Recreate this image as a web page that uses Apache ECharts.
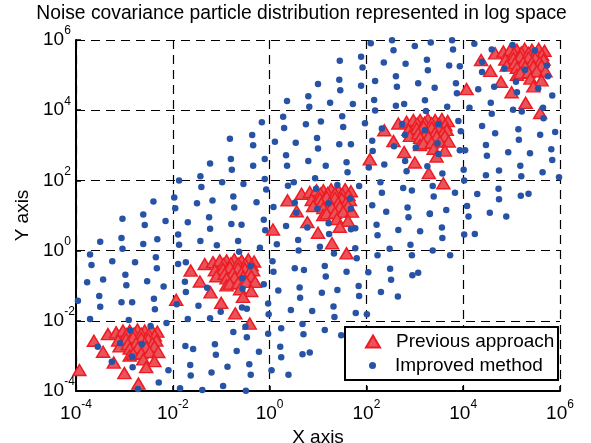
<!DOCTYPE html>
<html>
<head>
<meta charset="utf-8">
<script src="https://cdn.jsdelivr.net/npm/echarts@6/dist/echarts.min.js"></script>
<style>
  html, body { margin: 0; padding: 0; background: #fff; }
  #chart { width: 591px; height: 443px; }
</style>
</head>
<body>
<div id="chart"></div>
<script>
// All coordinates are stored as base-10 exponents (log10 of the value).

// Axis ticks (exponents of 10)
const tickExponents = [-4, -2, 0, 2, 4, 6];

// "Previous approach" particles, one array pair per cloud
const prevAx = [-3.93,-3.63,-3.34,-3.44,-3.22,-3.00,-2.71,-3.17,-3.03,-2.89,-2.73,-2.58,-2.44,-2.32,-2.95,-2.80,-2.65,-2.50,-2.37,-3.13,-2.96,-2.82,-2.65,-2.51,-2.34,-3.10,-2.93,-2.76,-2.58,-2.42,-2.89,-2.72,-2.55,-2.38,-2.89,-2.82,-2.65,-2.48,-2.30,-2.61,-2.38,-2.55];
const prevAy = [-3.40,-2.57,-2.38,-2.88,-3.19,-3.49,-3.79,-2.33,-2.28,-2.28,-2.25,-2.28,-2.25,-2.31,-2.38,-2.36,-2.37,-2.39,-2.42,-2.56,-2.52,-2.47,-2.50,-2.52,-2.56,-2.73,-2.66,-2.64,-2.64,-2.64,-2.79,-2.76,-2.75,-2.73,-2.99,-2.94,-2.92,-2.89,-2.89,-3.10,-3.15,-3.32];

const prevBx = [-1.93,-1.63,-1.34,-1.44,-1.22,-1.00,-0.71,-0.41,-1.17,-1.03,-0.89,-0.73,-0.58,-0.44,-0.32,-0.95,-0.80,-0.65,-0.50,-0.37,-1.13,-0.96,-0.82,-0.65,-0.51,-0.34,-1.10,-0.93,-0.76,-0.58,-0.42,-0.89,-0.72,-0.55,-0.38,-0.89,-0.82,-0.65,-0.48,-0.30,-0.61,-0.38,-0.55];
const prevBy = [-1.40,-0.57,-0.38,-0.88,-1.19,-1.49,-1.79,-2.08,-0.33,-0.28,-0.28,-0.25,-0.28,-0.25,-0.31,-0.38,-0.36,-0.37,-0.39,-0.42,-0.56,-0.52,-0.47,-0.50,-0.52,-0.56,-0.73,-0.66,-0.64,-0.64,-0.64,-0.79,-0.76,-0.75,-0.73,-0.99,-0.94,-0.92,-0.89,-0.89,-1.10,-1.15,-1.32];

const prevCx = [0.07,0.37,0.66,0.56,0.78,1.00,1.29,1.59,0.83,0.97,1.11,1.27,1.42,1.56,1.68,1.05,1.20,1.35,1.50,1.63,0.87,1.04,1.18,1.35,1.49,1.66,0.90,1.07,1.24,1.42,1.58,1.11,1.28,1.45,1.62,1.11,1.18,1.35,1.52,1.70,1.39,1.62,1.45];
const prevCy = [0.60,1.43,1.62,1.12,0.81,0.51,0.21,-0.08,1.67,1.72,1.72,1.75,1.72,1.75,1.69,1.62,1.64,1.63,1.61,1.58,1.44,1.48,1.53,1.50,1.48,1.44,1.27,1.34,1.36,1.36,1.36,1.21,1.24,1.25,1.27,1.01,1.06,1.08,1.11,1.11,0.90,0.85,0.68];

const prevDx = [2.07,2.37,2.66,2.56,2.78,3.00,3.29,3.59,2.83,2.97,3.11,3.27,3.42,3.56,3.68,3.05,3.20,3.35,3.50,3.63,2.87,3.04,3.18,3.35,3.49,3.66,2.90,3.07,3.24,3.42,3.58,3.11,3.28,3.45,3.62,3.11,3.18,3.35,3.52,3.70,3.39,3.62,3.45];
const prevDy = [2.60,3.43,3.62,3.12,2.81,2.51,2.21,1.92,3.67,3.72,3.72,3.75,3.72,3.75,3.69,3.62,3.64,3.63,3.61,3.58,3.44,3.48,3.53,3.50,3.48,3.44,3.27,3.34,3.36,3.36,3.36,3.21,3.24,3.25,3.27,3.01,3.06,3.08,3.11,3.11,2.90,2.85,2.68];

const prevEx = [4.07,4.37,4.66,4.56,4.78,5.00,5.29,5.59,4.83,4.97,5.11,5.27,5.42,5.56,5.68,5.05,5.20,5.35,5.50,5.63,4.87,5.04,5.18,5.35,5.49,5.66,4.90,5.07,5.24,5.42,5.58,5.11,5.28,5.45,5.62,5.11,5.18,5.35,5.52,5.70,5.39,5.62,5.45];
const prevEy = [4.60,5.43,5.62,5.12,4.81,4.51,4.21,3.92,5.67,5.72,5.72,5.75,5.72,5.75,5.69,5.62,5.64,5.63,5.61,5.58,5.44,5.48,5.53,5.50,5.48,5.44,5.27,5.34,5.36,5.36,5.36,5.21,5.24,5.25,5.27,5.01,5.06,5.08,5.11,5.11,4.90,4.85,4.68];

// "Improved method" particles
const impX = [
 -0.82,-0.80,-1.23,-0.78,-1.87,-1.43,-0.98,-1.41,-2.40,-1.97,-1.95,-1.50,-1.18,-0.75,-0.73,-2.61,
 2.53,2.09,2.56,1.45,1.89,2.36,1.92,2.61,2.18,2.63,1.44,1.00,1.46,1.89,0.80,0.36,2.16,0.82,1.25,1.72,2.61,2.18,
 0.28,1.50,-0.16,0.30,0.75,1.06,1.52,1.97,-0.36,-0.34,0.11,0.54,0.98,1.00,1.44,1.68,2.12,2.57,2.13,
 -0.10,0.34,0.36,0.80,1.16,1.59,1.61,2.05,2.37,-0.34,-0.54,-0.10,-0.07,0.38,0.50,0.94,0.96,1.40,1.85,2.29,2.32,
 -0.27,0.08,0.52,0.55,1.22,1.66,1.68,2.12,2.41,0.99,0.34,0.78,1.22,1.23,1.68,1.77,0.15,0.59,1.04,0.60,1.33,1.77,1.80,
 3.00,3.33,3.77,3.79,4.23,4.59,5.02,5.48,2.81,3.25,3.27,3.71,3.93,4.39,4.39,4.85,5.28,5.73,5.75,
 3.07,3.41,3.85,3.87,4.31,4.64,5.09,5.11,5.55,5.84,3.21,2.78,3.23,3.67,4.13,4.57,4.59,5.03,5.21,5.65,5.66,
 4.39,4.66,5.14,5.15,5.59,5.90,3.95,3.49,3.21,2.74,2.80,3.47,3.02,3.49,3.93,4.04,4.47,4.49,4.93,5.38,5.82,5.84,
 2.80,3.26,2.83,3.57,4.01,4.02,4.47,4.74,5.18,5.20,5.64,5.98,2.76,2.94,3.37,3.39,3.83,4.29,4.73,4.74,5.19,5.35,
 2.85,3.31,3.65,4.08,4.55,2.32,3.90,
 -3.04,-2.58,-2.15,-1.69,-1.25,-1.23,-0.79,-3.50,-3.06,-3.04,-2.61,-2.32,-1.89,-1.87,-1.43,-1.09,
 -3.71,-3.68,-3.25,-2.78,-2.35,-2.33,-1.89,-1.73,-2.98,-3.44,-3.77,-2.96,-2.53,-2.19,-1.75,-1.73,-1.29,
 -3.52,-3.96,-3.50,-3.06,-2.84,-2.39,-2.37,-1.92,-1.47,-1.01,-3.71,-2.91,-2.46,-2.13,-1.69,-1.23,-0.75,
 -3.55,-3.09,-2.88,-2.64,-2.84,-3.26,-2.83,-2.09,-2.29,-1.74,-1.58,-1.13,-1.11,-1.64,-1.63,-1.20,-0.96,-1.85,-1.39,-0.87,-2.72,
 -0.58,-0.12,-0.09,2.21,2.23,2.66,-0.65,-0.63,-0.20,2.23,2.48,0.06,0.08,0.52,0.71,1.14,1.16,1.59,2.04,2.49,2.51,
 -0.39,-0.56,-0.56,-0.12,0.18,0.62,0.63,1.08,1.40,1.84,1.85,2.30,2.65,-0.57,-0.47,-0.03,-0.02,0.44,0.88,1.32,1.34,1.78,2.01,
 -0.50,-0.47,0.24,0.68,0.70,1.14,1.48,-0.03,-0.68,-0.22,0.22,0.24,0.68,0.83,-0.42,-0.39,0.04,0.39,-0.49,
 2.87,3.31,4.11,4.89,3.11,3.56,3.57,4.02,4.24,2.91,2.94,3.37,3.73,2.95,3.07
];
const impY = [
 3.19,2.61,2.48,2.30,2.00,2.12,1.95,1.81,1.40,1.51,1.21,1.35,1.43,1.54,1.23,1.03,
 5.99,5.91,5.71,5.41,5.52,5.36,5.22,4.97,4.83,4.67,4.87,4.75,4.57,4.70,4.40,4.26,4.29,4.10,4.21,4.18,4.13,3.99,
 3.81,3.83,3.66,3.49,3.60,3.68,3.52,3.63,3.29,3.00,3.10,3.07,3.21,2.91,3.03,3.03,3.13,2.97,2.84,
 2.61,2.72,2.42,2.55,2.42,2.52,2.23,2.37,2.45,2.42,1.90,2.04,1.74,1.85,1.95,2.06,1.76,1.87,1.84,1.95,1.65,
 1.38,1.24,1.36,1.08,1.35,1.48,1.19,1.29,1.11,1.19,0.70,0.66,0.78,0.47,0.61,0.64,0.18,0.30,0.11,0.00,-0.08,0.07,-0.22,
 5.83,5.93,5.99,5.73,5.89,5.73,5.86,5.70,5.32,5.44,5.14,5.27,5.25,5.38,5.09,5.19,5.15,5.27,4.97,
 4.77,4.64,4.77,4.48,4.60,4.67,4.81,4.51,4.62,4.42,4.28,4.18,3.98,4.10,4.07,4.21,3.90,4.01,3.96,4.07,3.77,
 3.55,3.34,3.46,3.16,3.30,3.38,3.40,3.60,3.43,3.61,3.29,3.06,2.94,2.75,2.86,2.86,3.01,2.70,2.80,2.77,2.89,2.58,
 2.55,2.40,2.26,2.20,2.30,2.00,2.15,2.28,2.42,2.12,2.23,2.09,1.78,1.71,1.84,1.54,1.65,1.61,1.76,1.46,1.56,1.62,
 1.23,1.06,1.16,1.27,1.08,3.48,3.69,
 0.91,0.73,0.84,0.81,0.95,0.62,0.76,0.25,0.36,0.05,0.19,0.32,0.46,0.17,0.27,0.15,
 -0.11,-0.41,-0.30,-0.33,-0.19,-0.50,-0.38,-0.33,-0.69,-0.82,-0.90,-0.99,-0.87,-1.02,-0.89,-1.18,-1.06,
 -1.29,-1.43,-1.60,-1.47,-1.47,-1.37,-1.67,-1.53,-1.57,-1.74,-1.95,-1.98,-2.15,-2.06,-1.95,-1.93,-2.32,
 -2.74,-2.64,-2.27,-2.66,-3.02,-3.17,-3.32,-3.41,-3.76,-2.72,-2.80,-2.67,-2.97,-3.26,-3.56,-3.47,-3.86,-3.92,-3.97,-3.31,-3.94,
 0.74,0.88,0.58,0.74,0.44,0.59,0.27,-0.03,0.08,-0.13,0.05,-0.30,-0.60,-0.50,-0.55,-0.44,-0.74,-0.60,-0.62,-0.52,-0.83,
 -0.44,-0.79,-1.09,-0.96,-1.14,-1.05,-1.34,-1.20,-1.12,-1.01,-1.29,-1.18,-1.31,-1.62,-1.66,-1.51,-1.81,-1.69,-1.72,-1.59,-1.89,-1.78,-1.81,
 -2.17,-2.47,-2.21,-2.09,-2.38,-2.26,-2.41,-2.37,-2.86,-2.88,-2.74,-3.04,-2.95,-2.90,-3.24,-3.54,-3.41,-3.54,-3.99,
 0.95,1.04,0.97,0.97,0.55,0.66,0.36,0.46,0.47,0.17,-0.13,0.00,-0.13,-0.70,-0.63
];

const FONT = '"Liberation Sans", Arial, Helvetica, sans-serif';
const toValues = (xs, ys) => xs.map((x, i) => [Math.pow(10, x), Math.pow(10, ys[i])]);

const prevData = [].concat(
  toValues(prevAx, prevAy), toValues(prevBx, prevBy), toValues(prevCx, prevCy),
  toValues(prevDx, prevDy), toValues(prevEx, prevEy)
);
const impData = toValues(impX, impY);

const powerLabel = v => '{b|10}{s|' + Math.round(Math.log10(v)) + '}';
const labelRich = {
  b: { fontFamily: FONT, fontSize: 19, color: '#000', lineHeight: 30 },
  s: { fontFamily: FONT, fontSize: 12, color: '#000', lineHeight: 12, verticalAlign: 'top' }
};
const gridDash = { color: '#000', width: 1.2, type: [9, 6] };

function logAxis(extra) {
  return Object.assign({
    type: 'log',
    logBase: 10,
    min: Math.pow(10, tickExponents[0]),
    max: Math.pow(10, tickExponents[tickExponents.length - 1]),
    interval: 2,
    axisLine: { show: true, onZero: false, lineStyle: { color: '#000', width: 2 } },
    axisTick: { show: true, inside: true, length: 5, lineStyle: { color: '#000', width: 1.5 } },
    minorTick: { show: false },
    splitLine: { show: true, lineStyle: gridDash },
    nameTextStyle: { fontFamily: FONT, fontSize: 19, color: '#000' },
    nameLocation: 'middle'
  }, extra);
}

const chart = echarts.init(document.getElementById('chart'), null, { renderer: 'canvas' });
chart.setOption({
  animation: false,
  backgroundColor: '#fff',
  grid: { left: 76, right: 31, top: 40, bottom: 52, containLabel: false, outerBoundsMode: 'none' },
  xAxis: logAxis({
    name: 'X axis',
    nameGap: 28,
    axisLabel: { formatter: powerLabel, rich: labelRich, margin: 8 }
  }),
  yAxis: logAxis({
    name: 'Y axis',
    nameGap: 43,
    nameRotate: 90,
    axisLabel: { formatter: powerLabel, rich: labelRich, margin: 33, align: 'left' }
  }),
  legend: [
    {
      data: [{ name: 'Previous approach', icon: 'triangle' }],
      left: 365, top: 332, padding: 0, itemWidth: 14, itemHeight: 12,
      selectedMode: false, z: 60,
      textStyle: { fontFamily: FONT, fontSize: 19, color: '#000', lineHeight: 18, padding: [0, 0, 0, 11] }
    },
    {
      data: [{ name: 'Improved method', icon: 'circle' }],
      left: 369, top: 356, padding: 0, itemWidth: 7, itemHeight: 7,
      selectedMode: false, z: 60,
      textStyle: { fontFamily: FONT, fontSize: 19, color: '#000', lineHeight: 18, padding: [0, 0, 0, 14] }
    }
  ],
  graphic: [
    {
      type: 'text', z: 60, x: 301.5, y: 4,
      style: {
        text: 'Noise covariance particle distribution represented in log space',
        font: '19.3px ' + FONT, fill: '#000', align: 'center', verticalAlign: 'top'
      }
    },
    {
      type: 'rect', z: 50,
      shape: { x: 345, y: 327, width: 213, height: 53 },
      style: { fill: '#fff', stroke: '#000', lineWidth: 2 }
    }
  ],
  series: [
    {
      name: 'Previous approach',
      type: 'scatter',
      symbol: 'triangle',
      symbolSize: [13, 11],
      clip: false,
      itemStyle: { color: '#ea5359', borderColor: '#ed1c24', borderWidth: 1.5, opacity: 1 },
      data: prevData
    },
    {
      name: 'Improved method',
      type: 'scatter',
      symbol: 'circle',
      symbolSize: 6.5,
      clip: false,
      itemStyle: { color: '#2753a7', opacity: 1 },
      data: impData
    }
  ]
});
</script>
</body>
</html>
